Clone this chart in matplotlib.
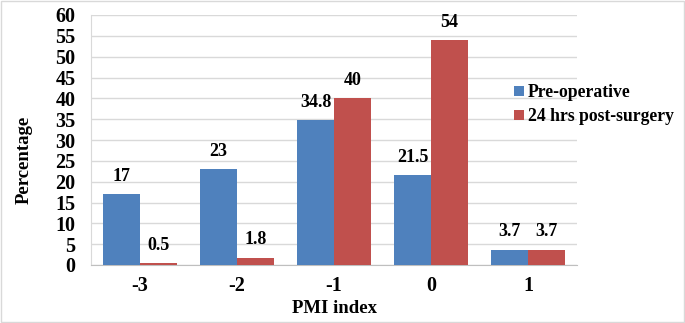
import matplotlib
matplotlib.use("Agg")
import matplotlib.pyplot as plt
import numpy as np

categories = ["-3", "-2", "-1", "0", "1"]
pre_op = [17, 23, 34.8, 21.5, 3.7]
post_op = [0.5, 1.8, 40, 54, 3.7]
pre_labels = ["17", "23", "34.8", "21.5", "3.7"]
post_labels = ["0.5", "1.8", "40", "54", "3.7"]

plt.rcParams['font.family'] = ['Liberation Serif', 'DejaVu Serif']
plt.rcParams['font.weight'] = 'bold'

fig = plt.figure(figsize=(6.85, 3.23), dpi=100)
ax = fig.add_axes([91/685, 1-265/323, (577-91)/685, (265-15)/323])

x = np.arange(len(categories))
w = 0.38
blue = "#4f81bd"
red = "#c0504d"
b1 = ax.bar(x - w/2, pre_op, w, color=blue, label="Pre-operative", zorder=3)
b2 = ax.bar(x + w/2, post_op, w, color=red, label="24 hrs post-surgery", zorder=3)

for rect, lab in zip(b1, pre_labels):
    ax.text(rect.get_x() + rect.get_width()/2, rect.get_height() + 2.2, lab,
            ha='center', va='bottom', fontsize=13, fontweight='bold')
for rect, lab in zip(b2, post_labels):
    ax.text(rect.get_x() + rect.get_width()/2, rect.get_height() + 2.2, lab,
            ha='center', va='bottom', fontsize=13, fontweight='bold')

ax.set_xlim(-0.5, 4.5)
ax.set_ylim(0, 60)
ax.set_yticks(range(0, 61, 5))
ax.set_xticks(x)
ax.set_xticklabels(categories)
ax.tick_params(axis='both', length=0, labelsize=14.5)
ax.tick_params(axis='x', pad=8)
ax.tick_params(axis='y', pad=11)
for lab in ax.get_xticklabels() + ax.get_yticklabels():
    lab.set_fontweight('bold')
ax.grid(axis='y', color='#d9d9d9', linewidth=1, zorder=0)
for s in ['top', 'right']:
    ax.spines[s].set_visible(False)
ax.spines['left'].set_color('#d9d9d9')
ax.spines['bottom'].set_color('#bfbfbf')

ax.set_xlabel("PMI index", fontsize=13.5, fontweight='bold', labelpad=3)
ax.set_ylabel("Percentage", fontsize=13.5, fontweight='bold')
ax.yaxis.set_label_coords((33 - 91) / 486, (265 - 160) / 250)

leg = ax.legend(loc='upper left', bbox_to_anchor=(507/685, 1-77/323), bbox_transform=fig.transFigure,
                frameon=False, fontsize=12.7, handlelength=0.55, handleheight=0.55,
                handletextpad=0.25, labelspacing=0.4, borderaxespad=0)
for t in leg.get_texts():
    t.set_fontweight('bold')

border = plt.Rectangle((0.001, 0.002), 0.997, 0.995, transform=fig.transFigure,
                       fill=False, edgecolor='#d9d9d9', linewidth=1)
fig.patches.append(border)

fig.savefig("out.png", dpi=100)
